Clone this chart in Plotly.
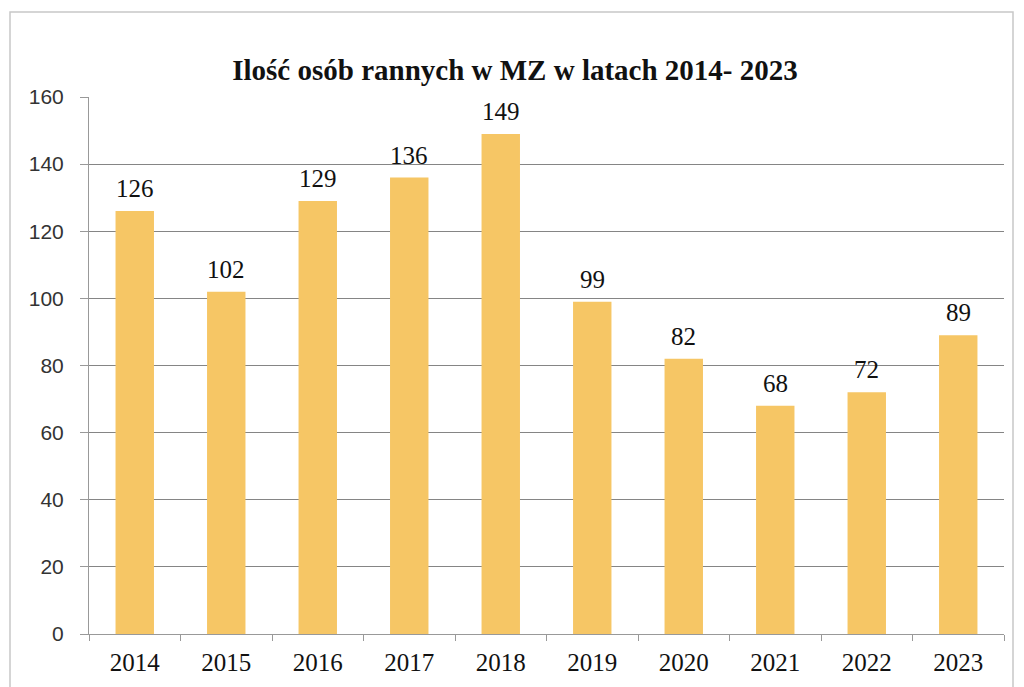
import plotly.graph_objects as go

years = ["2014", "2015", "2016", "2017", "2018", "2019", "2020", "2021", "2022", "2023"]
injured = [126, 102, 129, 136, 149, 99, 82, 68, 72, 89]
y_ticks = [0, 20, 40, 60, 80, 100, 120, 140, 160]

title_text = "Ilość osób rannych w MZ w latach 2014- 2023"

SERIF = "Liberation Serif, Times New Roman, serif"
SANS = "Liberation Sans, Arial, sans-serif"

# page has an 8px body margin; figure is sized so the page matches 1024x687
W, H = 1016, 679
L, R, T, B = 81, 20, 89, 53
pw, ph = W - L - R, H - T - B

fig = go.Figure()
fig.add_trace(go.Bar(
    x=years, y=injured,
    marker=dict(color="#F6C665", line=dict(width=0)),
    hoverinfo="x+y",
))

annotations = [
    dict(x=i, y=v, xref="x", yref="y", text=str(v), showarrow=False,
         yanchor="bottom", yshift=7,
         font=dict(family=SERIF, size=25, color="#111111"))
    for i, v in enumerate(injured)
]

fig.update_layout(
    width=W, height=H,
    margin=dict(l=L, r=R, t=T, b=B, autoexpand=False),
    paper_bgcolor="white", plot_bgcolor="white",
    bargap=0.58,
    showlegend=False,
    title=dict(text="<b>" + title_text + "</b>", x=(515 - 8) / W, xref="container",
               xanchor="center",
               y=1 - 62 / H, yanchor="middle",
               font=dict(family=SERIF, size=29, color="#111111")),
    xaxis=dict(
        type="category", range=[-0.5, len(years) - 0.5], autorange=False,
        tickson="boundaries", ticks="outside", ticklen=6,
        tickcolor="#999999", showline=True, linecolor="#999999", linewidth=1,
        showgrid=False, tickangle=0, ticklabelstandoff=6,
        tickfont=dict(family=SERIF, size=25, color="#111111"),
    ),
    yaxis=dict(
        range=[0, 160], autorange=False, tickvals=y_ticks, ticks="outside", ticklen=8,
        tickcolor="#999999", showline=True, linecolor="#999999", linewidth=1,
        showgrid=True, gridcolor="#858585", gridwidth=1, zeroline=False,
        ticklabelstandoff=12,
        tickfont=dict(family=SANS, size=21, color="#333333"),
    ),
    annotations=annotations,
    shapes=[dict(type="rect", xref="paper", yref="paper",
                 x0=(2 - L) / pw, x1=(1005 - L) / pw,
                 y0=(H - B - 700) / ph, y1=(H - B - 4) / ph,
                 line=dict(color="#c8c8c8", width=1.5), fillcolor="rgba(0,0,0,0)", layer="below")],
)

fig.write_html("out.html")
